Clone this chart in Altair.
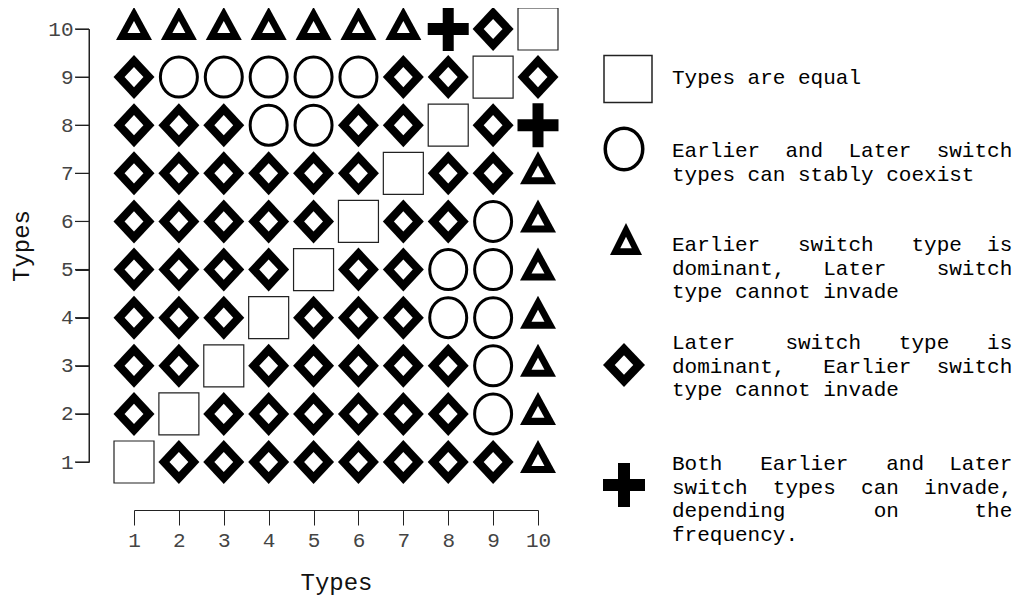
import altair as alt
import pandas as pd

# ---------------- data ----------------
x_types = [1, 2, 3, 4, 5, 6, 7, 8, 9, 10]
y_types = [1, 2, 3, 4, 5, 6, 7, 8, 9, 10]

# outcome code per cell, rows listed for y = 1 .. 10, columns x = 1 .. 10
# S = types equal, C = coexist, T = earlier dominant, D = later dominant, P = bistable
row_y1 = ["S", "D", "D", "D", "D", "D", "D", "D", "D", "T"]
row_y2 = ["D", "S", "D", "D", "D", "D", "D", "D", "C", "T"]
row_y3 = ["D", "D", "S", "D", "D", "D", "D", "D", "C", "T"]
row_y4 = ["D", "D", "D", "S", "D", "D", "D", "C", "C", "T"]
row_y5 = ["D", "D", "D", "D", "S", "D", "D", "C", "C", "T"]
row_y6 = ["D", "D", "D", "D", "D", "S", "D", "D", "C", "T"]
row_y7 = ["D", "D", "D", "D", "D", "D", "S", "D", "D", "T"]
row_y8 = ["D", "D", "D", "C", "C", "D", "D", "S", "D", "P"]
row_y9 = ["D", "C", "C", "C", "C", "C", "D", "D", "S", "D"]
row_y10 = ["T", "T", "T", "T", "T", "T", "T", "P", "D", "S"]
grid_rows = [row_y1, row_y2, row_y3, row_y4, row_y5,
             row_y6, row_y7, row_y8, row_y9, row_y10]

legend_codes = ["S", "C", "T", "D", "P"]
legend_texts = [
    ["Types are equal"],
    ["Earlier  and  Later  switch", "types can stably coexist"],
    ["Earlier   switch   type  is", "dominant,   Later    switch", "type cannot invade"],
    ["Later    switch   type   is", "dominant,   Earlier  switch", "type cannot invade"],
    ["Both   Earlier   and  Later", "switch  types  can  invade,",
     "depending       on      the", "frequency."],
]

cells = pd.DataFrame(
    [{"x": x_types[i], "y": y_types[j], "code": grid_rows[j][i]}
     for j in range(len(y_types)) for i in range(len(x_types))]
)
legend_df = pd.DataFrame({
    "code": legend_codes,
    "label": ["\n".join(lines).replace(" ", "\u00a0") for lines in legend_texts],
})
axis_span = pd.DataFrame({"lo": [min(y_types)], "hi": [max(y_types)]})
y_ticks_df = pd.DataFrame({"y": y_types})

# ---------------- symbol geometry (unit paths, scaled by sqrt(size)/2) ----------------
def f(v):
    return f"{v:.4f}"

def rect_path(hw, hh):
    a = hh / hw
    return f"M-1,{f(-a)} L1,{f(-a)} L1,{f(a)} L-1,{f(a)} Z"

def ellipse_path(hw, hh):
    a = hh / hw
    k = 0.5523
    return (f"M1,0 C1,{f(k*a)} {f(k)},{f(a)} 0,{f(a)} "
            f"C{f(-k)},{f(a)} -1,{f(k*a)} -1,0 "
            f"C-1,{f(-k*a)} {f(-k)},{f(-a)} 0,{f(-a)} "
            f"C{f(k)},{f(-a)} 1,{f(-k*a)} 1,0 Z")

def tri_path(hw, top, bottom):
    return f"M0,{f(-top/hw)} L1,{f(bottom/hw)} L-1,{f(bottom/hw)} Z"

def diamond_path(hw, hh):
    a = hh / hw
    return f"M-1,0 L0,{f(-a)} L1,0 L0,{f(a)} Z"

def plus_path(hw, hh, tx, ty):
    a, b, c = hh / hw, tx / hw, ty / hw
    pts = [(-b, -a), (b, -a), (b, -c), (1, -c), (1, c), (b, c), (b, a), (-b, a),
           (-b, c), (-1, c), (-1, -c), (-b, -c)]
    return "M" + " L".join(f"{f(px)},{f(py)}" for px, py in pts) + " Z"

def size_of(hw):
    return (2 * hw) ** 2

def symbol_layers(code, g):
    if code == "S":
        return [dict(shape=rect_path(g["hw"], g["hh"]), size=size_of(g["hw"]), filled=True,
                     fill="white", stroke="#222222", strokeWidth=g["sw"], opacity=1)]
    if code == "C":
        return [dict(shape=ellipse_path(g["hw"], g["hh"]), size=size_of(g["hw"]), filled=False,
                     stroke="black", strokeWidth=g["sw"], opacity=1)]
    if code == "T":
        p = tri_path(g["hw"], g["top"], g["bottom"])
        return [dict(shape=p, size=size_of(g["hw"]), filled=True, fill="black",
                     strokeWidth=0, opacity=1),
                dict(shape=p, size=size_of(g["hw"] * g["inner"]), filled=True, fill="white",
                     strokeWidth=0, opacity=1)]
    if code == "D":
        p = diamond_path(g["hw"], g["hh"])
        return [dict(shape=p, size=size_of(g["hw"]), filled=True, fill="black",
                     strokeWidth=0, opacity=1),
                dict(shape=p, size=size_of(g["hw"] * g["inner"]), filled=True, fill="white",
                     strokeWidth=0, opacity=1)]
    if code == "P":
        return [dict(shape=plus_path(g["hw"], g["hh"], g["tx"], g["ty"]), size=size_of(g["hw"]),
                     filled=True, fill="black", strokeWidth=0, opacity=1)]

grid_geom = {
    "S": dict(hw=20.0, hh=21.0, sw=1.2),
    "C": dict(hw=18.5, hh=20.0, sw=3),
    "T": dict(hw=18.0, top=22.0, bottom=11.0, inner=0.36),
    "D": dict(hw=20.5, hh=22.0, inner=0.46),
    "P": dict(hw=20.5, hh=22.0, tx=5.5, ty=6.0),
}
legend_geom = {
    "S": dict(hw=24.0, hh=23.5, sw=1.5),
    "C": dict(hw=18.75, hh=20.75, sw=3.5),
    "T": dict(hw=16.0, top=21.3, bottom=10.7, inner=0.36),
    "D": dict(hw=21.0, hh=22.0, inner=0.44),
    "P": dict(hw=21.0, hh=22.0, tx=6.0, ty=6.0),
}
# legend placement, relative to the plot origin (pixels)
legend_sym_pos = {"S": (494, 50), "C": (490, 120), "T": (492, 215.4), "D": (490, 336), "P": (490, 456)}
legend_text_pos = {"S": (538, 38.4), "C": (538, 111.4), "T": (538, 205.4), "D": (538, 303.4), "P": (538, 424.4)}

FONT = "Liberation Mono"
AXIS_COLOR = "#222222"

x_scale = alt.Scale(domain=[1, 10], nice=False, zero=False)
y_scale = alt.Scale(domain=[1, 10], nice=False, zero=False)

x_enc = alt.X("x:Q", scale=x_scale,
              axis=alt.Axis(values=x_types, format="d", offset=48, tickSize=15, labelPadding=4,
                            domain=True, ticks=True,
                            labelFont=FONT, labelFontSize=21, labelColor="#444444",
                            labelFlush=False, labelOverlap=False,
                            domainColor=AXIS_COLOR, tickColor=AXIS_COLOR, grid=False,
                            title="Types", titleFont=FONT, titleFontSize=24,
                            titleFontWeight="normal", titleColor="#111111",
                            titleY=72, titleBaseline="middle"))
y_enc = alt.Y("y:Q", scale=y_scale,
              axis=alt.Axis(values=y_types, format="d", offset=45, tickSize=14, labelPadding=2,
                            domain=True, ticks=True,
                            labelFont=FONT, labelFontSize=21, labelColor="#444444",
                            labelFlush=False, labelOverlap=False,
                            domainColor=AXIS_COLOR, tickColor=AXIS_COLOR, grid=False,
                            title="Types", titleFont=FONT, titleFontSize=24,
                            titleFontWeight="normal", titleColor="#111111",
                            titleX=-68, titleY=216.5, titleAngle=270,
                            titleBaseline="middle", titleAlign="center"))

layers = []
base = alt.Chart(cells)
for code in ["S", "C", "T", "D", "P"]:
    for kw in symbol_layers(code, grid_geom[code]):
        layers.append(
            base.transform_filter(alt.datum.code == code)
            .mark_point(**kw)
            .encode(x=x_enc, y=y_enc)
        )

# y axis line and ticks along the 1..10 span (R-style detached axis)
layers.append(
    alt.Chart(axis_span).mark_rule(color=AXIS_COLOR, strokeWidth=1).encode(
        x=alt.value(-45),
        y=alt.Y("lo:Q", scale=y_scale),
        y2="hi:Q",
    )
)
layers.append(
    alt.Chart(y_ticks_df).mark_tick(color=AXIS_COLOR, orient="horizontal",
                                    thickness=1.2, size=14, opacity=1).encode(
        x=alt.value(-52),
        y=alt.Y("y:Q", scale=y_scale),
    )
)

leg_base = alt.Chart(legend_df)
for code in legend_codes:
    sx, sy = legend_sym_pos[code]
    for kw in symbol_layers(code, legend_geom[code]):
        layers.append(
            leg_base.transform_filter(alt.datum.code == code)
            .mark_point(**kw)
            .encode(x=alt.value(sx), y=alt.value(sy))
        )
    tx, ty = legend_text_pos[code]
    layers.append(
        leg_base.transform_filter(alt.datum.code == code)
        .mark_text(font=FONT, fontSize=21, align="left", baseline="top",
                   lineBreak="\n", lineHeight=23.5, color="black")
        .encode(x=alt.value(tx), y=alt.value(ty), text="label:N")
    )

chart = (
    alt.layer(*layers)
    .properties(width=404, height=433,
                autosize=alt.AutoSizeParams(type="none"),
                padding={"left": 126, "top": 21, "right": 477, "bottom": 135})
    .configure_view(stroke=None)
    .configure_axis(domainWidth=1, tickWidth=1)
)

chart.save("out.html", embed_options={"renderer": "svg", "actions": False})
